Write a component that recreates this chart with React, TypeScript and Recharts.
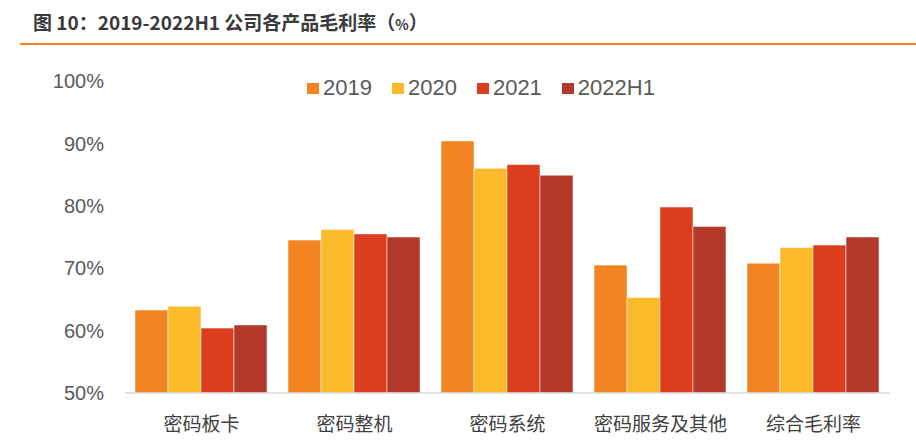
import React from 'react';
import { BarChart, Bar, XAxis, YAxis } from 'recharts';

const categories = ['密码板卡', '密码整机', '密码系统', '密码服务及其他', '综合毛利率'];
const s2019 = [63.3, 74.5, 90.4, 70.5, 70.8];
const s2020 = [63.9, 76.2, 86.0, 65.3, 73.3];
const s2021 = [60.4, 75.5, 86.6, 79.8, 73.7];
const s2022H1 = [60.9, 75.0, 84.9, 76.7, 75.0];
const yTicks = [50, 60, 70, 80, 90, 100];

const seriesNames = ['2019', '2020', '2021', '2022H1'];
const colors = ['#F28522', '#FBBA2A', '#DC3D1C', '#B33A2A'];

const data = categories.map((c, i) => ({
  name: c,
  '2019': s2019[i],
  '2020': s2020[i],
  '2021': s2021[i],
  '2022H1': s2022H1[i],
}));

export default function App() {
  return (
    <div style={{ position: 'absolute', left: 0, top: 0, width: 916, height: 448, background: '#fff', overflow: 'hidden' }}>
      <div style={{ position: 'absolute', left: 33, top: 8, fontFamily: '"Noto Sans CJK SC", sans-serif', fontWeight: 'bold', fontSize: 19, color: '#3a3a3a', whiteSpace: 'nowrap', lineHeight: '28px' }}>
        图 10：2019-2022H1 公司各产品毛利率（<span style={{ fontSize: 14 }}>%</span>）
      </div>
      <div style={{ position: 'absolute', left: 20, top: 43, width: 896, height: 2, background: '#F28522' }} />
      <div style={{ position: 'absolute', left: 307, top: 75, display: 'flex', alignItems: 'center', fontFamily: 'Liberation Sans, Arial, sans-serif', fontSize: 22, color: '#595959', lineHeight: '26px' }}>
        {seriesNames.map((n, i) => (
          <div key={n} style={{ display: 'flex', alignItems: 'center', marginRight: 20 }}>
            <div style={{ width: 12, height: 11, background: colors[i], marginRight: 4 }} />
            <span>{n}</span>
          </div>
        ))}
      </div>
      <BarChart
        width={916}
        height={448}
        data={data}
        margin={{ top: 81, right: 26, bottom: 20, left: 0 }}
        barCategoryGap={10}
        barGap={0}
        style={{ position: 'absolute', left: 0, top: 0 }}
      >
        <XAxis
          dataKey="name"
          height={35}
          tickLine={false}
          axisLine={{ stroke: '#D9D9D9', strokeWidth: 1.5 }}
          tick={{ fill: '#404040', fontSize: 19, fontFamily: '"Noto Sans CJK SC", sans-serif' }}
          tickMargin={19}
          interval={0}
        />
        <YAxis
          width={125}
          domain={[50, 100]}
          ticks={yTicks}
          tickFormatter={(v: number) => `${v}%`}
          axisLine={false}
          tickLine={false}
          tickSize={19}
          tickMargin={2}
          tick={{ fill: '#595959', fontSize: 20, fontFamily: 'Liberation Sans, Arial, sans-serif' }}
          allowDataOverflow
        />
        {seriesNames.map((n, i) => (
          <Bar key={n} dataKey={n} fill={colors[i]} stroke="#ffffff" strokeOpacity={0.5} strokeWidth={1} isAnimationActive={false} />
        ))}
      </BarChart>
    </div>
  );
}
